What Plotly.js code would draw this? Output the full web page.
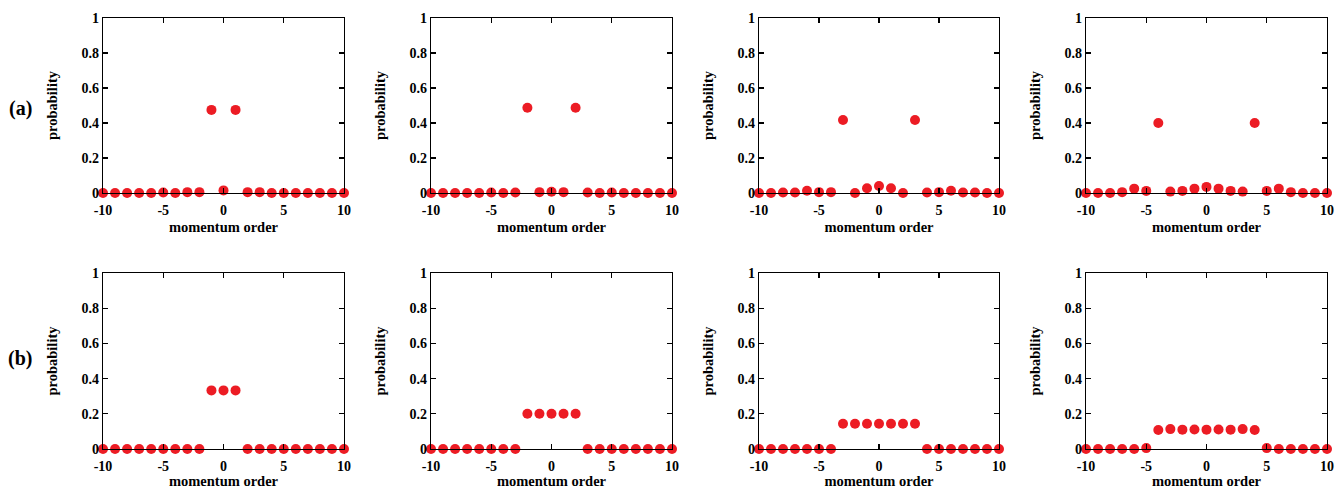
<!DOCTYPE html>
<html>
<head>
<meta charset="utf-8">
<script src="https://cdn.plot.ly/plotly-3.0.1.min.js"></script>
<style>html,body{margin:0;padding:0;background:#fff;}#chart{width:1344px;height:489px;}</style>
</head>
<body>
<div id="chart"></div>
<script>
// momentum orders
const orders = [-10,-9,-8,-7,-6,-5,-4,-3,-2,-1,0,1,2,3,4,5,6,7,8,9,10];

// row (a)
const a1 = [0,0,0,0,0,0.003,0,0.005,0.005,0.475,0.015,0.475,0.005,0.005,0,0,0,0,0,0,0];
const a2 = [0,0,0,0,0,0.003,0,0.003,0.487,0.005,0.007,0.005,0.487,0.003,0,0.003,0,0,0,0,0];
const a3 = [0,0,0.003,0.003,0.013,0.005,0.005,0.417,0,0.027,0.04,0.027,0,0.417,0.003,0.005,0.013,0.003,0.003,0,0];
const a4 = [0,0,0,0.005,0.025,0.012,0.4,0.008,0.012,0.025,0.035,0.025,0.012,0.008,0.4,0.012,0.025,0.005,0,0,0];

// row (b)
const b1 = [0,0,0,0,0,0,0,0,0,0.333,0.333,0.333,0,0,0,0,0,0,0,0,0];
const b2 = [0,0,0,0,0,0,0,0,0.2,0.2,0.2,0.2,0.2,0,0,0,0,0,0,0,0];
const b3 = [0,0,0,0,0,0,0,0.143,0.143,0.143,0.143,0.143,0.143,0.143,0,0,0,0,0,0,0];
const b4 = [0,0,0,0,0,0.005,0.108,0.113,0.11,0.111,0.11,0.111,0.11,0.113,0.108,0.005,0,0,0,0,0];

const series = [a1,a2,a3,a4,b1,b2,b3,b4];
const rowLabels = ['(a)','(b)'];
const xTitle = 'momentum order';
const yTitle = 'probability';
const xTicks = [-10,-5,0,5,10];
const yTicks = [0,0.2,0.4,0.6,0.8,1];

const W = 1344, H = 489;
const colsPx = [[103,344],[431,672],[759,999],[1086,1327]];
const rowsPx = [[18,193],[273,449]];
const labelYPx = [108,358];
const font = {family:'Times New Roman, Liberation Serif, serif', color:'#000', weight:700};

const data = [];
const layout = {
  width: W, height: H,
  margin:{l:0,r:0,t:0,b:0},
  paper_bgcolor:'#fff', plot_bgcolor:'#fff',
  showlegend:false,
  font: font,
  annotations: []
};

series.forEach((ys, i) => {
  const r = Math.floor(i/4), c = i%4;
  const n = i+1;
  const xa = n===1 ? 'x' : 'x'+n;
  const ya = n===1 ? 'y' : 'y'+n;
  data.push({
    x: orders, y: ys, xaxis: xa, yaxis: ya,
    type:'scatter', mode:'markers', cliponaxis:false,
    marker:{color:'#ec1c24', size:10, line:{width:0}}
  });
  const axCommon = {
    showline:true, linecolor:'#000', linewidth:1.2, mirror:'ticks',
    ticks:'inside', ticklen:5, tickwidth:1.2, tickcolor:'#000',
    showgrid:false, zeroline:false,
    tickfont:Object.assign({}, font, {size:14})
  };
  layout['xaxis'+(n===1?'':n)] = Object.assign({}, axCommon, {
    domain:[colsPx[c][0]/W, colsPx[c][1]/W],
    anchor: ya,
    range:[-10,10],
    tickvals: xTicks, ticktext: xTicks.map(String),
    ticklabelstandoff: 4,
    title:{text:xTitle, font:Object.assign({}, font, {size:14.5}), standoff:4}
  });
  layout['yaxis'+(n===1?'':n)] = Object.assign({}, axCommon, {
    domain:[1-rowsPx[r][1]/H, 1-rowsPx[r][0]/H],
    anchor: xa,
    range:[0,1],
    tickvals: yTicks, ticktext: yTicks.map(v=>String(v)),
    title:{text:yTitle, font:Object.assign({}, font, {size:14.5}), standoff:20}
  });
});

rowLabels.forEach((lab, r) => {
  layout.annotations.push({
    text: lab, xref:'paper', yref:'paper',
    x: 20/W, y: 1-labelYPx[r]/H,
    xanchor:'center', yanchor:'middle', showarrow:false,
    font:Object.assign({}, font, {size:20})
  });
});

Plotly.newPlot('chart', data, layout, {displayModeBar:false, staticPlot:true});
</script>
</body>
</html>
